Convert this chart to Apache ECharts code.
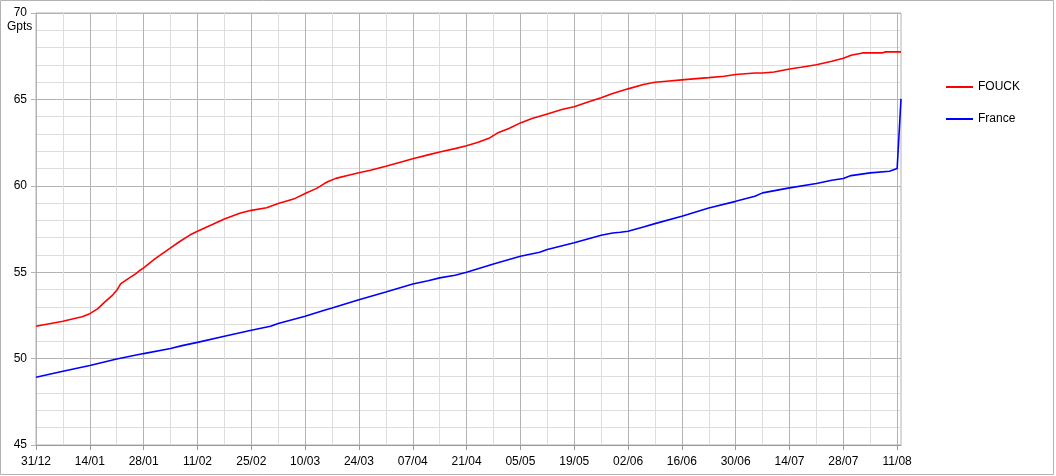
<!DOCTYPE html>
<html>
<head>
<meta charset="utf-8">
<script src="https://cdn.jsdelivr.net/npm/echarts@6/dist/echarts.min.js"></script>
<style>
html,body{margin:0;padding:0;background:#fff;}
#chart{width:1056px;height:476px;}
</style>
</head>
<body>
<div id="chart"></div>
<script>
// Tick labels (every 14 days from 31/12)
const tickLabels = ['31/12','14/01','28/01','11/02','25/02','10/03','24/03','07/04','21/04','05/05','19/05','02/06','16/06','30/06','14/07','28/07','11/08'];
const totalDays = 225; // last point is 12/08

// FOUCK series: day offsets from 31/12 and values (Gpts)
const fouckDays = [0,7,10,12,14,16,18,20,21,22,24,26,27,28,31,35,37,40,42,46,49,53,56,60,63,67,70,73,75,76,78,81,84,87,91,95,98,102,105,109,112,115,118,120,123,126,129,133,137,140,143,147,150,154,158,161,164,168,171,175,179,182,187,189,192,196,199,203,207,210,212,215,220,221,225];
const fouckVals = [51.87,52.16,52.32,52.42,52.60,52.88,53.30,53.69,53.95,54.32,54.63,54.92,55.10,55.25,55.78,56.41,56.72,57.15,57.37,57.77,58.08,58.41,58.58,58.73,58.97,59.23,59.55,59.85,60.13,60.25,60.43,60.60,60.75,60.90,61.13,61.38,61.56,61.79,61.96,62.15,62.32,62.52,62.77,63.05,63.32,63.64,63.89,64.16,64.43,64.58,64.80,65.10,65.34,65.61,65.86,65.99,66.05,66.13,66.19,66.26,66.34,66.44,66.53,66.53,66.59,66.76,66.86,67.01,67.21,67.38,67.55,67.69,67.69,67.75,67.75];

// France series
const franceDays = [0,7,14,21,28,35,38,42,49,56,61,63,70,75,77,84,91,98,102,105,109,112,119,126,131,133,140,147,150,152,154,158,161,168,175,182,187,189,196,203,207,210,212,217,222,224,225];
const franceVals = [48.92,49.27,49.60,49.98,50.29,50.58,50.75,50.94,51.29,51.64,51.87,52.03,52.45,52.80,52.93,53.41,53.86,54.32,54.51,54.67,54.82,55.00,55.48,55.92,56.15,56.31,56.70,57.14,57.27,57.31,57.37,57.62,57.81,58.24,58.72,59.10,59.40,59.59,59.88,60.13,60.32,60.42,60.59,60.75,60.84,61.00,65.03];

const seriesNames = ['FOUCK','France'];
const seriesColors = ['#ff0000','#0000ff'];

function pairs(days, vals){ return days.map((d,i)=>[d, vals[i]]); }

const catData = [];
for (let i = 0; i <= totalDays; i++) {
  catData.push(i % 14 === 0 && tickLabels[i/14] !== undefined ? tickLabels[i/14] : '');
}

const FONT = 'Liberation Sans, Arial, sans-serif';
const chart = echarts.init(document.getElementById('chart'), null, {renderer:'canvas'});
chart.setOption({
  animation: false,
  backgroundColor: '#fff',
  textStyle: {fontFamily: FONT},
  grid: {
    left: 36, right: 155, top: 13, bottom: 31,
    show: true, borderColor: '#b3b3b3', borderWidth: 1,
    outerBoundsMode: 'none', containLabel: false
  },
  legend: {
    orient: 'vertical', left: 941, top: 76,
    icon: 'rect', itemWidth: 27, itemHeight: 2, itemGap: 20,
    textStyle: {fontFamily: FONT, fontSize: 12, color: '#000'},
    data: seriesNames
  },
  graphic: [
    {type: 'rect', shape: {x: 0.5, y: 0.5, width: 1053, height: 474}, style: {fill: 'none', stroke: '#b3b3b3', lineWidth: 1}, z: -1, silent: true},
    {type: 'text', x: 7, y: 27, style: {text: 'Gpts', fontFamily: FONT, fontSize: 12, fill: '#000', verticalAlign: 'middle'}}
  ],
  xAxis: [
    {
      type: 'value', min: 0, max: totalDays, interval: 7,
      axisLine: {show: false}, axisTick: {show: false}, axisLabel: {show: false},
      splitLine: {show: true, showMaxLine: false, lineStyle: {color: ['#b3b3b3', '#dddddd'], width: 1}}
    },
    {
      type: 'category', data: catData, boundaryGap: false, position: 'bottom',
      axisLine: {show: true, lineStyle: {color: '#999999'}},
      axisTick: {show: true, length: 5, interval: (i) => i % 14 === 0, lineStyle: {color: '#999999'}},
      axisLabel: {interval: (i) => i % 14 === 0, margin: 11, fontFamily: FONT, fontSize: 12, color: '#000'},
      splitLine: {show: false}
    }
  ],
  yAxis: {
    type: 'value', min: 45, max: 70, interval: 5,
    axisLine: {show: true, lineStyle: {color: '#b3b3b3'}},
    axisTick: {show: true, length: 5, lineStyle: {color: '#b3b3b3'}},
    axisLabel: {margin: 9, fontFamily: FONT, fontSize: 12, color: '#000'},
    splitLine: {show: true, lineStyle: {color: '#b3b3b3'}},
    minorTick: {show: false, splitNumber: 5},
    minorSplitLine: {show: true, lineStyle: {color: '#dddddd'}}
  },
  series: [
    {name: seriesNames[0], type: 'line', xAxisIndex: 0, data: pairs(fouckDays, fouckVals), showSymbol: false, symbol: 'none', color: seriesColors[0], lineStyle: {width: 1.6, color: seriesColors[0]}},
    {name: seriesNames[1], type: 'line', xAxisIndex: 0, data: pairs(franceDays, franceVals), showSymbol: false, symbol: 'none', color: seriesColors[1], lineStyle: {width: 1.6, color: seriesColors[1]}}
  ]
});
</script>
</body>
</html>
